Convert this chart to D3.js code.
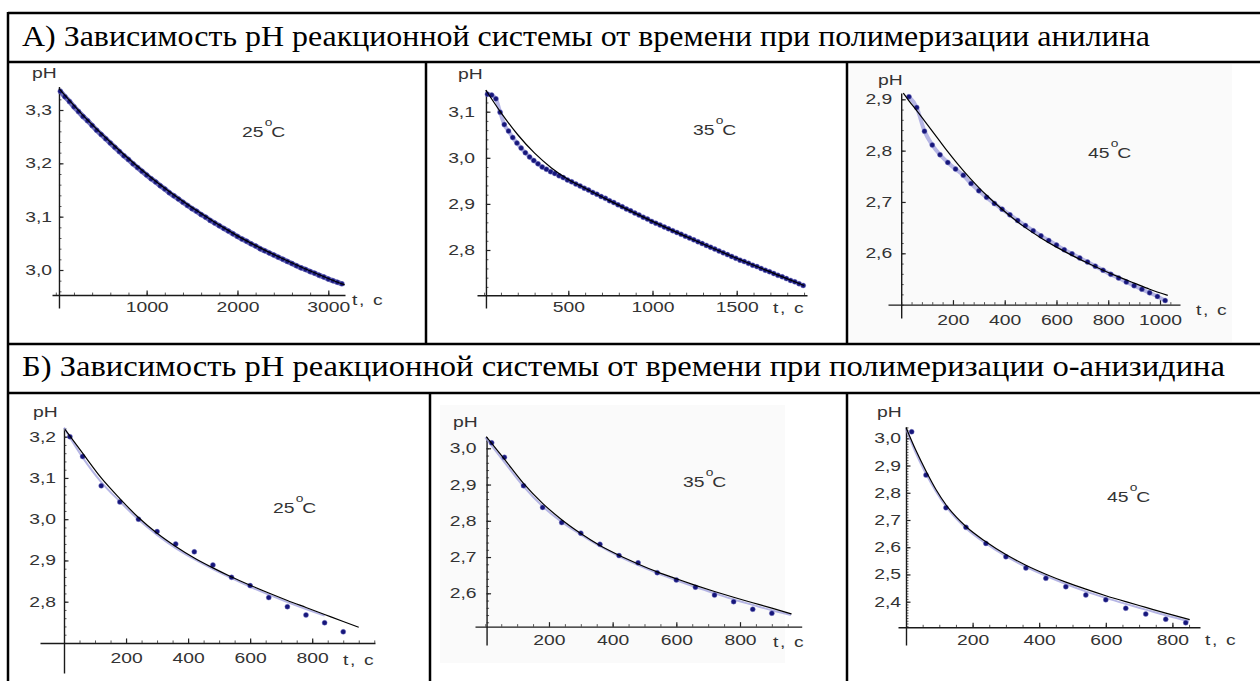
<!DOCTYPE html>
<html>
<head>
<meta charset="utf-8">
<script src="https://cdn.jsdelivr.net/npm/d3@7"></script>
<style>
  body { margin: 0; background: #fff; }
  svg { display: block; }
</style>
</head>
<body>
<script>
// row titles of the table
const titleA = "А) Зависимость pH реакционной системы от времени при полимеризации анилина";
const titleB = "Б) Зависимость pH реакционной системы от времени при полимеризации о-анизидина";

// A1: aniline, 25 C
const a1Time = [50,100,150,200,250,300,350,400,450,500,550,600,650,700,750,800,850,900,950,1000,
  1050,1100,1150,1200,1250,1300,1350,1400,1450,1500,1550,1600,1650,1700,1750,1800,1850,1900,1950,2000,
  2050,2100,2150,2200,2250,2300,2350,2400,2450,2500,2550,2600,2650,2700,2750,2800,2850,2900,2950,3000,
  3050,3100,3150];
const a1PH = [3.335,3.325,3.316,3.306,3.297,3.288,3.280,3.271,3.262,3.254,3.246,3.238,3.230,3.222,3.214,
  3.207,3.199,3.192,3.185,3.178,3.171,3.165,3.158,3.152,3.145,3.139,3.133,3.127,3.121,3.115,3.110,3.104,
  3.099,3.093,3.088,3.083,3.078,3.073,3.068,3.063,3.058,3.054,3.049,3.045,3.040,3.036,3.032,3.028,3.024,
  3.020,3.016,3.012,3.008,3.004,3.001,2.997,2.994,2.990,2.987,2.983,2.980,2.977,2.974];
const a1FitTime = [35,300,600,1000,1500,2000,2500,3000,3180];
const a1FitPH = [3.340,3.290,3.240,3.180,3.117,3.064,3.021,2.984,2.972];

// A2: aniline, 35 C
const a2Time = [20,45,70,95,120,145,170,195,220,245,270,295,320,345,370,395,420,445,470,495,520,545,570,595,
  620,645,670,695,720,745,770,795,820,845,870,895,920,945,970,995,1020,1045,1070,1095,1120,1145,1170,1195,
  1220,1245,1270,1295,1320,1345,1370,1395,1420,1445,1470,1495,1520,1545,1570,1595,1620,1645,1670,1695,
  1720,1745,1770,1795,1820,1845,1870,1895];
const a2PH = [3.138,3.136,3.128,3.099,3.072,3.058,3.044,3.032,3.021,3.011,3.002,2.994,2.987,2.980,2.975,
  2.970,2.966,2.961,2.957,2.952,2.948,2.943,2.939,2.934,2.930,2.925,2.921,2.916,2.912,2.907,2.903,2.898,
  2.894,2.889,2.885,2.880,2.876,2.871,2.867,2.862,2.858,2.854,2.850,2.846,2.842,2.838,2.834,2.830,2.826,
  2.822,2.818,2.814,2.810,2.806,2.802,2.798,2.794,2.790,2.786,2.782,2.778,2.775,2.771,2.767,2.764,2.760,
  2.756,2.753,2.749,2.745,2.742,2.738,2.734,2.731,2.727,2.723];
const a2FitTime = [10,100,200,300,400,500,600,750,1000,1250,1500,1750,1900];
const a2FitPH = [3.147,3.098,3.050,3.010,2.978,2.953,2.934,2.906,2.862,2.821,2.782,2.745,2.723];

// A3: aniline, 45 C
const a3Time = [30,60,90,120,150,180,210,240,270,300,330,360,390,420,450,480,510,540,570,600,
  630,660,690,720,750,780,810,840,870,900,930,960,990,1020];
const a3PH = [2.905,2.884,2.838,2.811,2.792,2.777,2.764,2.752,2.736,2.722,2.709,2.697,2.686,2.675,2.664,
  2.654,2.644,2.634,2.625,2.616,2.607,2.599,2.591,2.583,2.575,2.567,2.559,2.552,2.544,2.537,2.530,2.523,
  2.516,2.508];
const a3FitTime = [8,30,60,90,120,150,180,210,240,270,300,330,360,420,480,540,600,660,720,780,840,900,960,1030];
const a3FitPH = [2.912,2.897,2.878,2.858,2.838,2.818,2.798,2.779,2.761,2.744,2.728,2.713,2.699,2.673,2.650,
  2.630,2.612,2.596,2.581,2.567,2.554,2.542,2.530,2.518];

// B1: o-anisidine, 25 C
const b1Time = [19,60,120,180,240,300,360,420,480,540,600,660,720,780,840,900];
const b1PH = [3.200,3.152,3.081,3.042,3.000,2.970,2.940,2.921,2.889,2.859,2.839,2.810,2.788,2.768,2.749,2.727];
const b1FitTime = [3,60,120,180,240,300,360,420,480,540,600,660,720,780,840,900,950];
const b1FitPH = [3.218,3.160,3.100,3.050,3.004,2.966,2.934,2.906,2.882,2.860,2.840,2.821,2.803,2.786,2.769,2.752,2.738];
const b1LightTime = [0,60,120,180,240,300,360,420,480,540,600,660,720,780,840];
const b1LightPH = [3.222,3.150,3.090,3.043,2.999,2.962,2.930,2.903,2.879,2.857,2.836,2.817,2.799,2.782,2.766];

// B2: o-anisidine, 35 C
const b2Time = [20,60,120,180,240,300,360,420,480,540,600,660,720,780,840,900];
const b2PH = [3.015,2.975,2.897,2.837,2.795,2.766,2.735,2.704,2.684,2.657,2.637,2.617,2.595,2.577,2.556,2.545];
const b2FitTime = [3,60,120,180,240,300,360,420,480,540,600,660,720,780,840,900,962];
const b2FitPH = [3.032,2.970,2.903,2.848,2.803,2.765,2.732,2.705,2.681,2.659,2.640,2.622,2.605,2.589,2.574,2.559,2.543];
const b2LightTime = [0,60,120,180,240,300,360,420,480,540,600,660,720,780,840,900,960];
const b2LightPH = [3.030,2.962,2.895,2.840,2.797,2.762,2.730,2.702,2.678,2.656,2.636,2.617,2.600,2.583,2.568,2.553,2.540];

// B3: o-anisidine, 45 C
const b3Time = [17,60,120,180,240,300,360,420,480,540,600,660,720,780,840];
const b3PH = [3.024,2.865,2.745,2.673,2.614,2.565,2.524,2.486,2.455,2.425,2.407,2.376,2.355,2.336,2.323];
const b3FitTime = [0,30,60,90,120,180,240,300,360,420,480,540,600,660,720,780,852];
const b3FitPH = [3.040,2.955,2.880,2.812,2.756,2.676,2.620,2.573,2.534,2.501,2.472,2.446,2.422,2.400,2.379,2.358,2.334];
const b3LightTime = [0,30,60,90,120,180,240,300,360,420,480,540,600,660,720,780,850];
const b3LightPH = [3.035,2.945,2.870,2.805,2.750,2.670,2.614,2.567,2.528,2.495,2.465,2.438,2.414,2.392,2.371,2.350,2.328];

// tick labels
const a1XTicks = [1000, 2000, 3000];
const a1YTicks = [3.0, 3.1, 3.2, 3.3];
const a2XTicks = [500, 1000, 1500];
const a2YTicks = [2.8, 2.9, 3.0, 3.1];
const a3XTicks = [200, 400, 600, 800, 1000];
const a3YTicks = [2.6, 2.7, 2.8, 2.9];
const bXTicks = [200, 400, 600, 800];
const b1YTicks = [2.8, 2.9, 3.0, 3.1, 3.2];
const b2YTicks = [2.6, 2.7, 2.8, 2.9, 3.0];
const b3YTicks = [2.4, 2.5, 2.6, 2.7, 2.8, 2.9, 3.0];
const temps = ["25", "35", "45", "25", "35", "45"];

// layout of each panel (pixel frame, where the axes cross, label spots)
const panels = [
  { time: a1Time, ph: a1PH, fitTime: a1FitTime, fitPH: a1FitPH, temp: temps[0], dense: true,
    xDom: [0, 3000], xRng: [55.8, 328.3], yDom: [3.0, 3.3], yRng: [270, 110],
    yAxisAt: 35, xAxisAt: 2.953, yLine: [86.5, 308], xLine: [52, 345],
    xTicks: a1XTicks, xMinor: 200, yTicks: a1YTicks, yMinor: 0.02, xPad: 7, yPad: 7,
    phPos: [32, 78], tcPos: [352, 305], tpPos: [242, 137] },
  { time: a2Time, ph: a2PH, fitTime: a2FitTime, fitPH: a2FitPH, temp: temps[1],
    xDom: [500, 1500], xRng: [568.3, 736.7], yDom: [2.8, 3.1], yRng: [250, 111.7],
    yAxisAt: 11, xAxisAt: 2.702, yLine: [90, 308], xLine: [477, 807],
    xTicks: a2XTicks, xMinor: 100, yTicks: a2YTicks, yMinor: 0.02, xPad: 7, yPad: 11,
    phPos: [458, 79], tcPos: [773, 313], tpPos: [693, 135] },
  { time: a3Time, ph: a3PH, fitTime: a3FitTime, fitPH: a3FitPH, temp: temps[2],
    xDom: [0, 1000], xRng: [901.2, 1160], yDom: [2.6, 2.9], yRng: [253.3, 99.3],
    yAxisAt: 0, xAxisAt: 2.5, yLine: [93, 318], xLine: [888, 1180],
    xTicks: a3XTicks, xMinor: 40, yTicks: a3YTicks, yMinor: 0.02, xPad: 10, yPad: 9,
    phPos: [878, 85], tcPos: [1196, 315], tpPos: [1088, 158], bg: [850, 64, 1232, 342] },
  { time: b1Time, ph: b1PH, fitTime: b1FitTime, fitPH: b1FitPH, lightTime: b1LightTime, lightPH: b1LightPH,
    temp: temps[3],
    xDom: [0, 800], xRng: [64, 312.2], yDom: [2.8, 3.2], yRng: [601.7, 436.7],
    yAxisAt: 0, xAxisAt: 2.7, yLine: [428, 673], xLine: [40, 375],
    xTicks: bXTicks, xMinor: 50, yTicks: b1YTicks, yMinor: 0.02, xPad: 10, yPad: 8,
    phPos: [33, 417], tcPos: [343, 665], tpPos: [273, 513] },
  { time: b2Time, ph: b2PH, fitTime: b2FitTime, fitPH: b2FitPH, lightTime: b2LightTime, lightPH: b2LightPH,
    temp: temps[4],
    xDom: [0, 800], xRng: [485.3, 740], yDom: [2.6, 3.0], yRng: [593.3, 448.3],
    yAxisAt: 4, xAxisAt: 2.508, yLine: [436.7, 645], xLine: [475, 801.7],
    xTicks: bXTicks, xMinor: 50, yTicks: b2YTicks, yMinor: 0.02, xPad: 8, yPad: 10,
    phPos: [453, 427], tcPos: [773, 647], tpPos: [683, 487], bg: [440, 405, 785, 663] },
  { time: b3Time, ph: b3PH, fitTime: b3FitTime, fitPH: b3FitPH, lightTime: b3LightTime, lightPH: b3LightPH,
    temp: temps[5],
    xDom: [0, 800], xRng: [906, 1172.4], yDom: [2.4, 3.0], yRng: [601.7, 438.3],
    yAxisAt: 0, xAxisAt: 2.306, yLine: [427, 645], xLine: [898, 1200],
    xTicks: bXTicks, xMinor: 50, yTicks: b3YTicks, yMinor: 0.01, xPad: 8, yPad: 5,
    phPos: [877, 417], tcPos: [1205, 645], tpPos: [1107, 502] },
];

const SX = 1.38; // plot lettering is wide
const sans = "Liberation Sans, Arial, sans-serif";
const serif = "Liberation Serif, Times New Roman, serif";
const phFmt = d => d3.format(".1f")(d).replace(".", ",");

const svg = d3.select("body").append("svg")
  .attr("width", 1260)
  .attr("height", 681);

function label(parent, x, y, str) {
  return parent.append("text")
    .attr("transform", `translate(${x},${y}) scale(${SX},1)`)
    .attr("font-family", sans)
    .attr("font-size", 14)
    .attr("fill", "#333")
    .text(str);
}

function steps(lo, hi, step) {
  const out = [];
  const n0 = Math.ceil(lo / step - 1e-9), n1 = Math.floor(hi / step + 1e-9);
  for (let i = n0; i <= n1; i++) out.push(+(i * step).toFixed(4));
  return out;
}

function drawPanel(p) {
  const x = d3.scaleLinear().domain(p.xDom).range(p.xRng);
  const y = d3.scaleLinear().domain(p.yDom).range(p.yRng);
  const g = svg.append("g");

  if (p.bg) {
    g.append("rect")
      .attr("x", p.bg[0]).attr("y", p.bg[1])
      .attr("width", p.bg[2] - p.bg[0]).attr("height", p.bg[3] - p.bg[1])
      .attr("fill", "#fafafa");
  }

  const ax0 = x(p.yAxisAt), ay0 = y(p.xAxisAt);

  // scales that span the whole drawn axis lines
  const yA = d3.scaleLinear()
    .domain([y.invert(p.yLine[1]), y.invert(p.yLine[0])])
    .range([p.yLine[1], p.yLine[0]]);
  const xA = d3.scaleLinear()
    .domain([x.invert(p.xLine[0]), x.invert(p.xLine[1])])
    .range(p.xLine);

  // minor ticks
  const yMin = steps(y.invert(ay0), yA.domain()[1], p.yMinor);
  const xMin = steps(Math.max(0, xA.domain()[0]), xA.domain()[1], p.xMinor);

  g.append("g")
    .attr("transform", `translate(${ax0},0)`)
    .call(d3.axisLeft(yA).tickValues(yMin).tickSize(-2.5).tickFormat(""))
    .call(a => a.select(".domain").remove())
    .selectAll("line").attr("stroke", "#555");
  g.append("g")
    .attr("transform", `translate(0,${ay0})`)
    .call(d3.axisBottom(xA).tickValues(xMin).tickSize(-2.5).tickFormat(""))
    .call(a => a.select(".domain").remove())
    .selectAll("line").attr("stroke", "#555");

  // major ticks and axis lines
  const yAx = g.append("g")
    .attr("transform", `translate(${ax0},0)`)
    .call(d3.axisLeft(yA).tickValues(p.yTicks).tickSizeInner(-4.5).tickSizeOuter(0)
      .tickPadding(p.yPad / SX).tickFormat(phFmt));
  const xAx = g.append("g")
    .attr("transform", `translate(0,${ay0})`)
    .call(d3.axisBottom(xA).tickValues(p.xTicks).tickSizeInner(-4.5).tickSizeOuter(0)
      .tickPadding(p.xPad).tickFormat(d3.format("d")));

  [yAx, xAx].forEach(a => {
    a.select(".domain").attr("stroke", "#1a1a1a").attr("stroke-width", 1.4);
    a.selectAll(".tick line").attr("stroke", "#222").attr("stroke-width", 1.2);
    a.selectAll("text")
      .attr("transform", `scale(${SX},1)`)
      .attr("font-family", sans)
      .attr("font-size", 14)
      .attr("fill", "#333");
  });

  const pts = p.time.map((t, i) => [t, p.ph[i]]);
  const line = d3.line().x(d => x(d[0])).y(d => y(d[1])).curve(d3.curveMonotoneX);

  // pale blue trace under the points
  const light = p.lightTime ? p.lightTime.map((t, i) => [t, p.lightPH[i]]) : pts;
  g.append("path")
    .datum(light)
    .attr("d", line)
    .attr("fill", "none")
    .attr("stroke", p.dense ? "#3a3aa0" : "#9d9ddc")
    .attr("stroke-width", p.lightTime ? 2 : (p.dense ? 5 : 4))
    .attr("stroke-opacity", 0.75);

  g.append("g")
    .selectAll("circle")
    .data(pts)
    .join("circle")
    .attr("cx", d => x(d[0]))
    .attr("cy", d => y(d[1]))
    .attr("r", 2.5)
    .attr("fill", "#16167a")
    .attr("stroke", "#7a7ac8")
    .attr("stroke-opacity", 0.45)
    .attr("stroke-width", 1);

  // fitted curve
  g.append("path")
    .datum(p.fitTime.map((t, i) => [t, p.fitPH[i]]))
    .attr("d", line)
    .attr("fill", "none")
    .attr("stroke", "#000")
    .attr("stroke-width", 1.2);

  label(g, p.phPos[0], p.phPos[1], "pH");
  label(g, p.tcPos[0], p.tcPos[1], "t, c").attr("letter-spacing", 1.2);

  const tl = label(g, p.tpPos[0], p.tpPos[1], "");
  tl.append("tspan").text(p.temp);
  tl.append("tspan").attr("dx", 1).attr("dy", -11).attr("font-size", 10).text("o");
  tl.append("tspan").attr("dx", -1).attr("dy", 11).text("C");
}

panels.forEach(drawPanel);

// table frame
const frame = [
  [8, 13, 1260, 13], [8, 62, 1260, 62], [8, 344, 1260, 344], [8, 393, 1260, 393],
  [8, 12, 8, 681],
  [426, 62, 426, 344], [847, 62, 847, 344],
  [430, 393, 430, 681], [847, 393, 847, 681],
];
svg.append("g")
  .selectAll("line")
  .data(frame)
  .join("line")
  .attr("x1", d => d[0]).attr("y1", d => d[1])
  .attr("x2", d => d[2]).attr("y2", d => d[3])
  .attr("stroke", "#000")
  .attr("stroke-width", 2.5);

svg.append("text")
  .attr("x", 22).attr("y", 46)
  .attr("font-family", serif).attr("font-size", 30)
  .attr("textLength", 1128).attr("lengthAdjust", "spacingAndGlyphs")
  .text(titleA);
svg.append("text")
  .attr("x", 22).attr("y", 376)
  .attr("font-family", serif).attr("font-size", 30)
  .attr("textLength", 1203).attr("lengthAdjust", "spacingAndGlyphs")
  .text(titleB);
</script>
</body>
</html>
